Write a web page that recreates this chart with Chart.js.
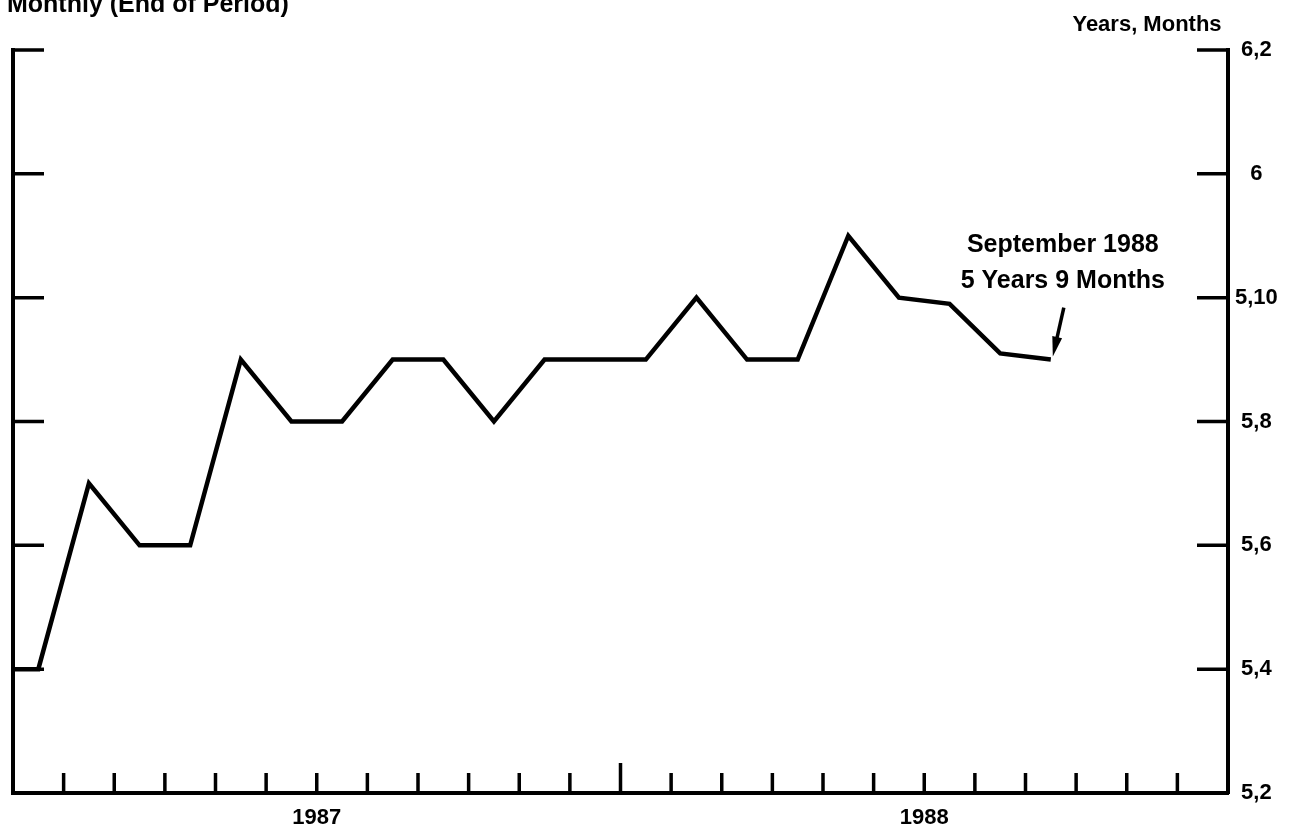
<!DOCTYPE html>
<html lang="en">
<head>
    <meta charset="UTF-8">
    <title>Average Maturity - Monthly (End of Period)</title>
    <script src="https://cdn.jsdelivr.net/npm/chart.js"></script>
    <style>
        html, body {
            margin: 0;
            padding: 0;
            background: #fff;
        }

        .chart-box {
            width: 1290px;
            height: 829px;
            position: relative;
        }
    </style>
</head>
<body>
<div class="chart-box">
    <canvas id="maturityChart"></canvas>
</div>

<script>
    // months shown (Dec 1986 only feeds the line at the left edge)
    const months = ['Dec 1986',
        'Jan 1987', 'Feb 1987', 'Mar 1987', 'Apr 1987', 'May 1987', 'Jun 1987',
        'Jul 1987', 'Aug 1987', 'Sep 1987', 'Oct 1987', 'Nov 1987', 'Dec 1987',
        'Jan 1988', 'Feb 1988', 'Mar 1988', 'Apr 1988', 'May 1988', 'Jun 1988',
        'Jul 1988', 'Aug 1988', 'Sep 1988'];

    // average maturity, in months (5,4 = 5 years 4 months = 64)
    const maturityMonths = [64,
        64, 67, 66, 66, 69, 68,
        68, 69, 69, 68, 69, 69,
        69, 70, 69, 69, 71, 70,
        69.9, 69.1, 69];

    const yearLabels = ['1987', '1988'];
    const yTickValues = [62, 64, 66, 68, 70, 72, 74];   // 5,2 ... 6,2
    const yMin = 62, yMax = 74;
    const xMin = 0, xMax = 24;   // Jan 1987 .. Dec 1988, one unit per month

    const FONT = '"Liberation Sans", Arial, Helvetica, sans-serif';

    function yearsMonths(v) {
        const y = Math.floor(v / 12), m = v % 12;
        return m ? y + ',' + m : String(y);
    }

    const points = maturityMonths.map((v, i) => ({x: i - 0.5, y: v}));

    // inward tick marks, texts and the September 1988 callout
    const decorations = {
        id: 'decorations',
        afterDraw(chart) {
            const {ctx, chartArea: a, scales: {x, y}} = chart;
            ctx.save();
            ctx.strokeStyle = '#000';
            ctx.fillStyle = '#000';
            ctx.lineWidth = 3.5;
            ctx.beginPath();
            for (let m = xMin + 1; m < xMax; m++) {
                const px = x.getPixelForValue(m);
                const len = m === 12 ? 30 : 20;
                ctx.moveTo(px, a.bottom);
                ctx.lineTo(px, a.bottom - len);
            }
            yTickValues.forEach(v => {
                if (v === yMin) return;
                const py = y.getPixelForValue(v);
                ctx.moveTo(a.left, py);
                ctx.lineTo(a.left + 31, py);
                ctx.moveTo(a.right, py);
                ctx.lineTo(a.right - 31, py);
            });
            ctx.stroke();

            // headings
            ctx.font = 'bold 25px ' + FONT;
            ctx.textAlign = 'left';
            ctx.textBaseline = 'alphabetic';
            ctx.fillText('Monthly (End of Period)', 7, 12);
            ctx.font = 'bold 22px ' + FONT;
            ctx.textAlign = 'center';
            ctx.textBaseline = 'middle';
            ctx.fillText('Years, Months', 1147, 25);

            // callout on last month
            const last = maturityMonths.length - 1;
            const px = x.getPixelForValue(last - 0.5);
            const py = y.getPixelForValue(maturityMonths[last]);
            ctx.font = 'bold 25px ' + FONT;
            ctx.fillText('September 1988', px + 12, py - 114);
            ctx.fillText('5 Years 9 Months', px + 12, py - 78);

            const tx = px + 13, ty = py - 52, hx = px + 2, hy = py - 3;
            const ang = Math.atan2(hy - ty, hx - tx);
            ctx.lineWidth = 3.5;
            ctx.beginPath();
            ctx.moveTo(tx, ty);
            ctx.lineTo(hx - 14 * Math.cos(ang), hy - 14 * Math.sin(ang));
            ctx.stroke();
            ctx.beginPath();
            ctx.moveTo(hx, hy);
            ctx.lineTo(hx - 20 * Math.cos(ang) + 5 * Math.sin(ang), hy - 20 * Math.sin(ang) - 5 * Math.cos(ang));
            ctx.lineTo(hx - 20 * Math.cos(ang) - 5 * Math.sin(ang), hy - 20 * Math.sin(ang) + 5 * Math.cos(ang));
            ctx.closePath();
            ctx.fill();
            ctx.restore();
        }
    };

    const ctx = document.getElementById('maturityChart').getContext('2d');
    new Chart(ctx, {
        type: 'line',
        data: {
            datasets: [{
                label: 'Average maturity',
                data: points,
                borderColor: '#000',
                borderWidth: 4.5,
                pointRadius: 0,
                tension: 0,
                yAxisID: 'y'
            }]
        },
        options: {
            responsive: true,
            maintainAspectRatio: false,
            animation: false,
            layout: {padding: {top: 50, left: 0, right: 0, bottom: 0}},
            plugins: {
                legend: {display: false},
                tooltip: {enabled: false}
            },
            scales: {
                x: {
                    type: 'linear',
                    min: xMin,
                    max: xMax,
                    grid: {display: false, drawTicks: false},
                    border: {display: true, width: 4, color: '#000'},
                    afterBuildTicks(scale) {
                        const t = [];
                        for (let m = xMin; m <= xMax; m++) t.push({value: m});
                        scale.ticks = t;
                    },
                    afterFit(scale) { scale.height = 36; },
                    ticks: {
                        autoSkip: false,
                        maxRotation: 0,
                        padding: 12,
                        color: '#000',
                        font: {family: FONT, size: 22, weight: 'bold'},
                        callback: v => v === 6 ? yearLabels[0] : v === 18 ? yearLabels[1] : ''
                    }
                },
                y: {
                    position: 'right',
                    min: yMin,
                    max: yMax,
                    grid: {display: false, drawTicks: false},
                    border: {display: true, width: 4, color: '#000'},
                    afterBuildTicks(scale) {
                        scale.ticks = yTickValues.map(v => ({value: v}));
                    },
                    afterFit(scale) { scale.width = 62; },
                    ticks: {
                        padding: 7,
                        crossAlign: 'center',
                        color: '#000',
                        font: {family: FONT, size: 22, weight: 'bold'},
                        callback: v => yearsMonths(v)
                    }
                },
                yl: {
                    position: 'left',
                    min: yMin,
                    max: yMax,
                    grid: {display: false, drawTicks: false},
                    border: {display: true, width: 4, color: '#000'},
                    ticks: {display: false},
                    afterFit(scale) { scale.width = 13; }
                }
            }
        },
        plugins: [decorations]
    });
</script>
</body>
</html>
